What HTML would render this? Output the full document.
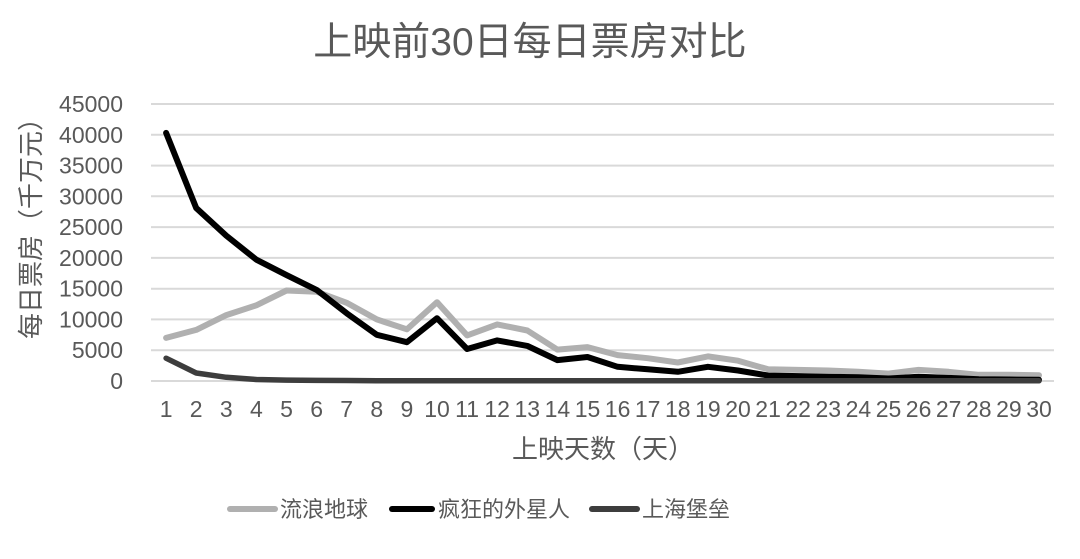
<!DOCTYPE html>
<html>
<head>
<meta charset="utf-8">
<style>
  html, body { margin: 0; padding: 0; background: #ffffff; }
  body { width: 1080px; height: 559px; overflow: hidden; }
  svg { display: block; }
  text { font-family: "Liberation Sans", "Noto Sans CJK SC", sans-serif; fill: #595959; }
</style>
</head>
<body>
<svg width="1080" height="559" viewBox="0 0 1080 559" xmlns="http://www.w3.org/2000/svg">
  <rect width="1080" height="559" fill="#ffffff"/>
  <!-- Title -->
  <text x="530" y="55" font-size="39" text-anchor="middle">上映前30日每日票房对比</text>

  <!-- Gridlines -->
  <g stroke="#d9d9d9" stroke-width="2">
    <line x1="151" y1="104" x2="1054" y2="104"/>
    <line x1="151" y1="134.8" x2="1054" y2="134.8"/>
    <line x1="151" y1="165.6" x2="1054" y2="165.6"/>
    <line x1="151" y1="196.3" x2="1054" y2="196.3"/>
    <line x1="151" y1="227.1" x2="1054" y2="227.1"/>
    <line x1="151" y1="257.9" x2="1054" y2="257.9"/>
    <line x1="151" y1="288.7" x2="1054" y2="288.7"/>
    <line x1="151" y1="319.4" x2="1054" y2="319.4"/>
    <line x1="151" y1="350.2" x2="1054" y2="350.2"/>
    <line x1="151" y1="381" x2="1054" y2="381"/>
  </g>

  <!-- Y tick labels -->
  <g font-size="23" text-anchor="end">
    <text x="123" y="112">45000</text>
    <text x="123" y="142.8">40000</text>
    <text x="123" y="173.6">35000</text>
    <text x="123" y="204.3">30000</text>
    <text x="123" y="235.1">25000</text>
    <text x="123" y="265.9">20000</text>
    <text x="123" y="296.7">15000</text>
    <text x="123" y="327.4">10000</text>
    <text x="123" y="358.2">5000</text>
    <text x="123" y="389">0</text>
  </g>

  <!-- Y axis title -->
  <text transform="translate(40,222) rotate(-90)" font-size="26" text-anchor="middle">每日票房（千万元）</text>

  <!-- X tick labels -->
  <g font-size="23" text-anchor="middle">
    <text x="166.1" y="417">1</text>
    <text x="196.2" y="417">2</text>
    <text x="226.3" y="417">3</text>
    <text x="256.4" y="417">4</text>
    <text x="286.5" y="417">5</text>
    <text x="316.6" y="417">6</text>
    <text x="346.7" y="417">7</text>
    <text x="376.8" y="417">8</text>
    <text x="406.9" y="417">9</text>
    <text x="437.0" y="417">10</text>
    <text x="467.1" y="417">11</text>
    <text x="497.2" y="417">12</text>
    <text x="527.3" y="417">13</text>
    <text x="557.4" y="417">14</text>
    <text x="587.5" y="417">15</text>
    <text x="617.6" y="417">16</text>
    <text x="647.7" y="417">17</text>
    <text x="677.8" y="417">18</text>
    <text x="707.9" y="417">19</text>
    <text x="738.0" y="417">20</text>
    <text x="768.1" y="417">21</text>
    <text x="798.2" y="417">22</text>
    <text x="828.3" y="417">23</text>
    <text x="858.4" y="417">24</text>
    <text x="888.5" y="417">25</text>
    <text x="918.6" y="417">26</text>
    <text x="948.7" y="417">27</text>
    <text x="978.8" y="417">28</text>
    <text x="1008.9" y="417">29</text>
    <text x="1039.0" y="417">30</text>
  </g>

  <!-- X axis title -->
  <text x="603" y="458" font-size="26" text-anchor="middle">上映天数（天）</text>

  <!-- Series: 流浪地球 -->
  <polyline fill="none" stroke="#b0b0b0" stroke-width="6" stroke-linejoin="round" stroke-linecap="round"
    points="166.1,337.9 196.2,329.9 226.3,315.1 256.4,305.3 286.5,290.5 316.6,291.7 346.7,302.8 376.8,319.4 406.9,329.3 437.0,302.2 467.1,335.4 497.2,324.4 527.3,330.5 557.4,349.6 587.5,347.1 617.6,355.1 647.7,358.2 677.8,362.5 707.9,356.4 738.0,360.7 768.1,369.3 798.2,369.9 828.3,370.5 858.4,371.8 888.5,373.6 918.6,369.9 948.7,371.8 978.8,374.8 1008.9,374.8 1039.0,375.2"/>

  <!-- Series: 疯狂的外星人 -->
  <polyline fill="none" stroke="#000000" stroke-width="6" stroke-linejoin="round" stroke-linecap="round"
    points="166.1,132.9 196.2,208.0 226.3,235.7 256.4,259.7 286.5,275.1 316.6,289.9 346.7,313.3 376.8,334.8 406.9,342.2 437.0,318.2 467.1,349.0 497.2,340.4 527.3,345.9 557.4,360.1 587.5,357.0 617.6,366.8 647.7,369.3 677.8,371.8 707.9,366.8 738.0,370.5 768.1,375.5 798.2,376.1 828.3,376.7 858.4,377.3 888.5,378.5 918.6,376.7 948.7,377.9 978.8,379.2 1008.9,379.5 1039.0,379.8"/>

  <!-- Series: 上海堡垒 -->
  <polyline fill="none" stroke="#3d3d3d" stroke-width="5.5" stroke-linejoin="round" stroke-linecap="round"
    points="166.1,358.2 196.2,373.0 226.3,377.3 256.4,379.5 286.5,380.1 316.6,380.4 346.7,380.5 376.8,380.7 406.9,380.7 437.0,380.7 467.1,380.8 497.2,380.8 527.3,380.8 557.4,380.8 587.5,380.8 617.6,380.8 647.7,380.8 677.8,380.8 707.9,380.8 738.0,380.8 768.1,380.8 798.2,380.8 828.3,380.8 858.4,380.8 888.5,380.8 918.6,380.8 948.7,380.8 978.8,380.8 1008.9,380.8 1039.0,380.8"/>

  <!-- Legend -->
  <g stroke-linecap="round" stroke-width="6">
    <line x1="230" y1="509" x2="275" y2="509" stroke="#b0b0b0"/>
    <line x1="392" y1="509" x2="432" y2="509" stroke="#000000"/>
    <line x1="592" y1="509" x2="637" y2="509" stroke="#3d3d3d"/>
  </g>
  <g font-size="22">
    <text x="280" y="517">流浪地球</text>
    <text x="438" y="517">疯狂的外星人</text>
    <text x="642" y="517">上海堡垒</text>
  </g>
</svg>
</body>
</html>
